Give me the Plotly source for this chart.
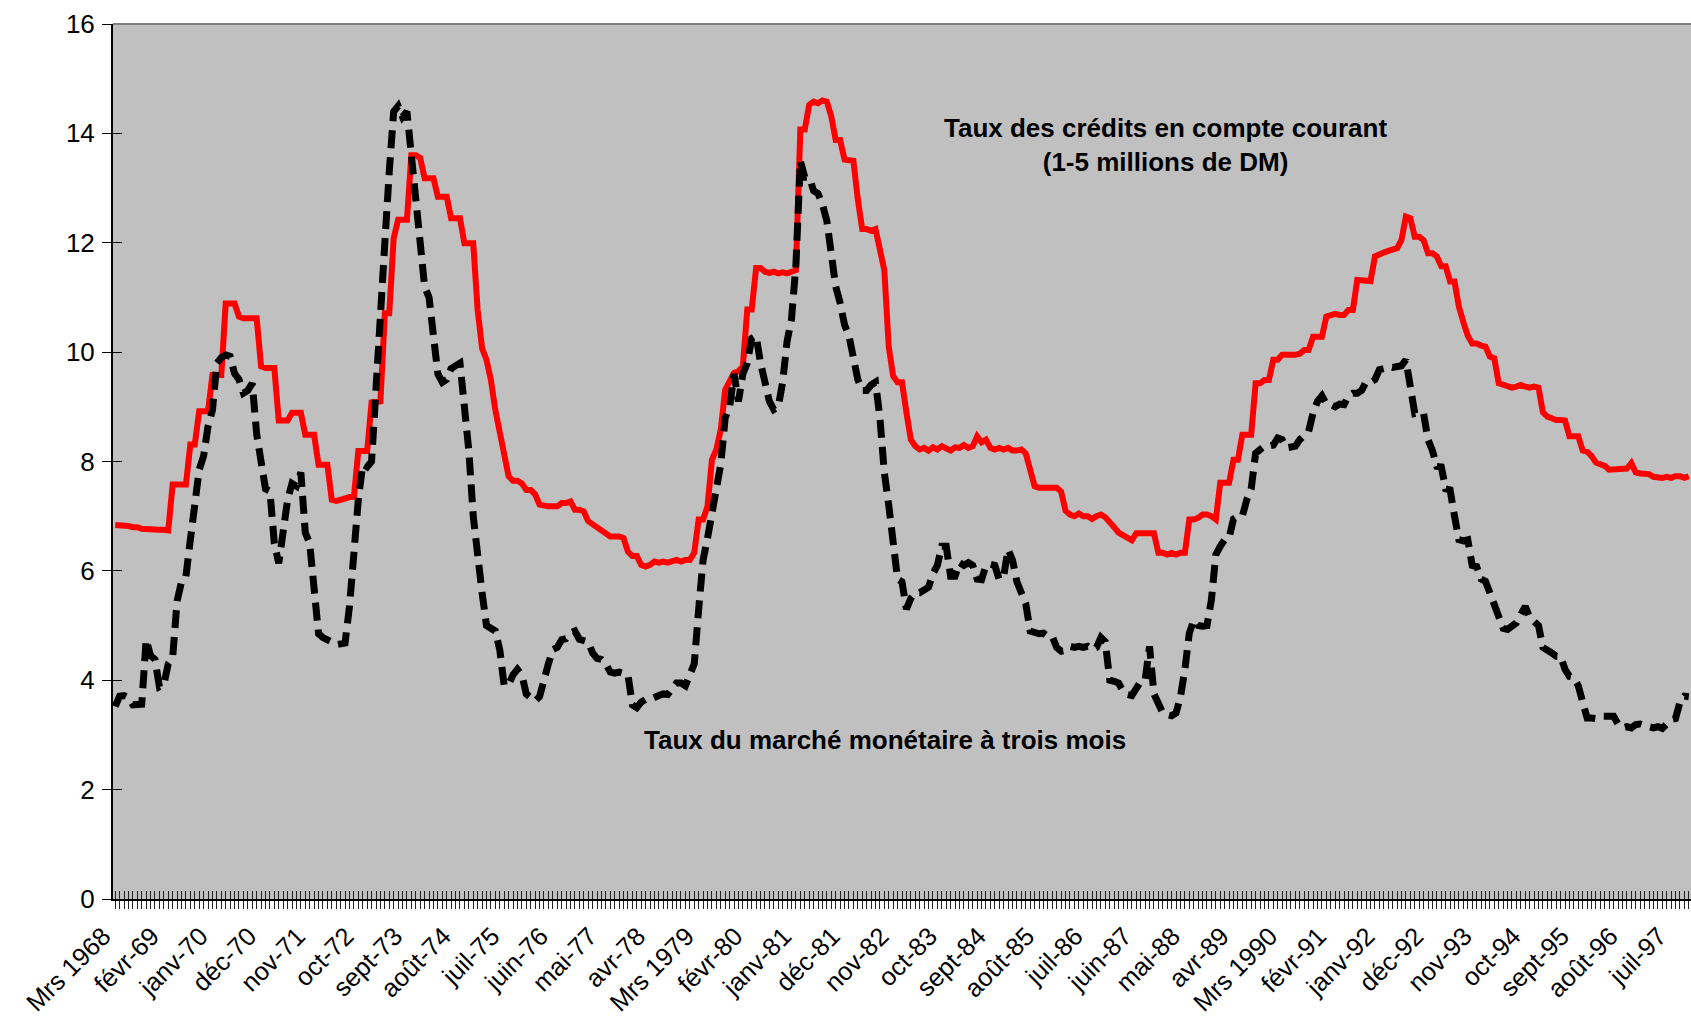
import plotly.graph_objects as go

# category labels shown every 11 months, first month = March 1968
tick_labels = ["Mrs 1968", "févr-69", "janv-70", "déc-70", "nov-71", "oct-72", "sept-73",
               "août-74", "juil-75", "juin-76", "mai-77", "avr-78", "Mrs 1979", "févr-80",
               "janv-81", "déc-81", "nov-82", "oct-83", "sept-84", "août-85", "juil-86",
               "juin-87", "mai-88", "avr-89", "Mrs 1990", "févr-91", "janv-92", "déc-92",
               "nov-93", "oct-94", "sept-95", "août-96", "juil-97"]
label_step = 11

# Taux des crédits en compte courant (1-5 millions de DM), monthly, Mar 1968 - Nov 1997
credit_rate = [
    6.84, 6.84, 6.84, 6.82, 6.80, 6.80, 6.77, 6.76, 6.75, 6.76,                          # 1968
    6.75, 6.75, 6.74, 7.58, 7.58, 7.58, 7.58, 8.31, 8.31, 8.92, 8.92, 8.92,              # 1969
    9.58, 9.58, 9.58, 10.89, 10.89, 10.89, 10.65, 10.62, 10.62, 10.62, 10.62, 9.74,      # 1970
    9.71, 9.71, 9.71, 8.75, 8.75, 8.75, 8.89, 8.89, 8.89, 8.49, 8.49, 8.49,              # 1971
    7.94, 7.94, 7.94, 7.30, 7.28, 7.30, 7.33, 7.35, 7.35, 8.19, 8.19, 8.19,              # 1972
    9.08, 9.08, 9.10, 10.71, 10.71, 12.08, 12.42, 12.42, 12.42, 13.60, 13.60, 13.55,     # 1973
    13.18, 13.18, 13.18, 12.84, 12.84, 12.84, 12.45, 12.45, 12.45, 11.99, 11.99, 11.99,  # 1974
    10.77, 10.07, 9.86, 9.49, 8.94, 8.50, 8.05, 7.73, 7.65, 7.65, 7.60, 7.48,            # 1975
    7.48, 7.40, 7.21, 7.19, 7.18, 7.18, 7.18, 7.24, 7.24, 7.27, 7.12, 7.12,              # 1976
    7.09, 6.91, 6.85, 6.78, 6.72, 6.69, 6.63, 6.63, 6.63, 6.60, 6.35, 6.27,              # 1977
    6.27, 6.11, 6.08, 6.11, 6.17, 6.15, 6.17, 6.15, 6.17, 6.20, 6.17, 6.20,              # 1978
    6.20, 6.33, 6.94, 6.94, 7.18, 8.03, 8.22, 8.58, 9.31, 9.45, 9.62, 9.65,              # 1979
    9.74, 10.78, 10.78, 11.54, 11.54, 11.47, 11.45, 11.47, 11.44, 11.46, 11.44, 11.47,   # 1980
    11.50, 14.07, 14.07, 14.52, 14.58, 14.55, 14.60, 14.58, 14.31, 13.88, 13.88, 13.52,  # 1981
    13.52, 13.50, 12.80, 12.25, 12.25, 12.22, 12.25, 11.80, 11.50, 10.10, 9.56, 9.45,    # 1982
    9.45, 8.90, 8.40, 8.28, 8.22, 8.25, 8.20, 8.26, 8.22, 8.28, 8.24, 8.20,              # 1983
    8.26, 8.25, 8.30, 8.25, 8.28, 8.46, 8.35, 8.40, 8.25, 8.22, 8.25, 8.22,              # 1984
    8.25, 8.20, 8.20, 8.22, 8.15, 7.85, 7.55, 7.52, 7.52, 7.50, 7.50, 7.52,              # 1985
    7.45, 7.10, 7.03, 7.00, 7.05, 7.00, 7.00, 6.95, 7.00, 7.03, 6.98, 6.90,              # 1986
    6.80, 6.70, 6.65, 6.60, 6.56, 6.69, 6.69, 6.70, 6.69, 6.69, 6.33, 6.33,              # 1987
    6.30, 6.33, 6.30, 6.33, 6.33, 6.94, 6.94, 6.97, 7.03, 7.03, 7.00, 6.94,              # 1988
    7.61, 7.61, 7.61, 8.03, 8.03, 8.49, 8.49, 8.49, 9.43, 9.43, 9.49, 9.49,              # 1989
    9.86, 9.86, 9.95, 9.95, 9.93, 9.95, 9.97, 10.04, 10.04, 10.28, 10.28, 10.28,         # 1990
    10.65, 10.68, 10.70, 10.68, 10.68, 10.77, 10.77, 11.32, 11.32, 11.32, 11.30, 11.75,  # 1991
    11.80, 11.82, 11.85, 11.88, 11.90, 12.05, 12.48, 12.45, 12.11, 12.11, 12.05, 11.81,  # 1992
    11.81, 11.75, 11.57, 11.57, 11.29, 11.29, 10.83, 10.55, 10.30, 10.16, 10.16, 10.12,  # 1993
    10.10, 9.92, 9.89, 9.43, 9.40, 9.37, 9.35, 9.37, 9.40, 9.37, 9.35, 9.37,             # 1994
    9.35, 8.90, 8.82, 8.79, 8.76, 8.76, 8.75, 8.46, 8.46, 8.46, 8.20, 8.18,              # 1995
    8.10, 7.98, 7.95, 7.92, 7.85, 7.85, 7.85, 7.85, 7.87, 7.97, 7.80, 7.78,              # 1996
    7.78, 7.77, 7.72, 7.70, 7.70, 7.72, 7.70, 7.73, 7.73, 7.70, 7.73,                    # 1997
]

# Taux du marché monétaire à trois mois, same months
money_market_rate = [
    3.52, 3.71, 3.72, 3.68, 3.55, 3.55, 3.56, 4.74, 4.45, 4.38,                          # 1968
    3.88, 3.92, 4.30, 4.42, 5.45, 5.80, 5.90, 6.57, 7.24, 7.85, 8.10, 8.64,              # 1969
    8.94, 9.80, 9.90, 9.95, 9.92, 9.61, 9.50, 9.25, 9.30, 9.43, 8.50, 7.97,              # 1970
    7.50, 7.46, 6.50, 6.14, 6.81, 7.30, 7.60, 7.55, 7.80, 6.70, 6.50, 5.66,              # 1971
    4.85, 4.78, 4.75, 4.70, 4.65, 4.65, 4.68, 5.35, 6.39, 7.30, 7.95, 7.90,              # 1972
    8.00, 9.50, 10.80, 12.00, 13.30, 14.40, 14.50, 14.30, 14.40, 13.60, 13.10, 12.10,    # 1973
    11.20, 11.00, 10.20, 9.60, 9.45, 9.50, 9.70, 9.75, 9.80, 9.00, 8.20, 7.00,           # 1974
    6.20, 5.60, 5.00, 4.93, 4.90, 4.56, 3.90, 3.92, 4.10, 4.20, 4.10, 3.75,              # 1975
    3.68, 3.62, 3.70, 4.07, 4.30, 4.56, 4.60, 4.74, 4.76, 4.86, 4.90, 4.75,              # 1976
    4.72, 4.70, 4.50, 4.40, 4.38, 4.30, 4.15, 4.13, 4.15, 4.13, 4.10, 3.55,              # 1977
    3.50, 3.60, 3.65, 3.65, 3.70, 3.72, 3.75, 3.74, 3.85, 3.95, 3.95, 3.90,              # 1978
    4.10, 4.30, 5.30, 6.20, 6.60, 7.00, 7.40, 7.95, 8.80, 9.00, 9.60, 9.10,              # 1979
    9.60, 9.80, 10.25, 10.30, 9.80, 9.50, 9.10, 8.95, 9.00, 9.45, 10.20, 10.60,          # 1980
    11.60, 13.50, 13.20, 13.20, 12.95, 12.90, 12.70, 12.40, 11.70, 11.20, 10.90, 10.50,  # 1981
    10.30, 9.80, 9.50, 9.30, 9.30, 9.40, 9.45, 8.80, 7.80, 7.20, 6.60, 5.85,             # 1982
    5.80, 5.30, 5.50, 5.60, 5.60, 5.65, 5.70, 5.95, 6.10, 6.45, 6.45, 5.90,              # 1983
    5.90, 6.15, 6.10, 6.15, 6.10, 5.85, 5.84, 6.10, 6.12, 6.10, 5.84, 5.90,              # 1984
    6.39, 6.20, 5.80, 5.60, 5.40, 4.90, 4.86, 4.85, 4.86, 4.80, 4.80, 4.60,              # 1985
    4.53, 4.55, 4.62, 4.60, 4.62, 4.60, 4.62, 4.56, 4.60, 4.78, 4.70, 4.00,              # 1986
    3.98, 3.95, 3.80, 3.74, 3.72, 3.85, 3.98, 4.00, 4.62, 3.75, 3.60, 3.40,              # 1987
    3.37, 3.35, 3.40, 3.70, 4.20, 4.86, 5.10, 5.00, 4.99, 5.00, 5.47, 6.30,              # 1988
    6.45, 6.57, 6.60, 6.95, 7.00, 7.00, 7.30, 7.50, 8.15, 8.20, 8.28, 8.28,              # 1989
    8.30, 8.43, 8.40, 8.25, 8.25, 8.28, 8.40, 8.50, 8.55, 8.89, 9.10, 9.20,              # 1990
    9.05, 9.04, 9.00, 9.05, 9.04, 9.20, 9.25, 9.25, 9.30, 9.46, 9.45, 9.50,              # 1991
    9.68, 9.70, 9.74, 9.72, 9.74, 9.75, 9.86, 9.37, 8.88, 8.90, 8.88, 8.40,              # 1992
    8.20, 7.91, 7.90, 7.50, 7.48, 7.00, 6.57, 6.55, 6.57, 6.10, 6.08, 5.85,              # 1993
    5.81, 5.60, 5.35, 5.10, 4.95, 4.93, 5.00, 5.05, 5.20, 5.35, 5.15, 5.05,              # 1994
    5.00, 4.60, 4.56, 4.50, 4.44, 4.44, 4.20, 4.07, 4.05, 3.90, 3.60, 3.31,              # 1995
    3.31, 3.30, 3.34, 3.34, 3.33, 3.34, 3.20, 3.13, 3.15, 3.13, 3.19, 3.20,              # 1996
    3.17, 3.15, 3.13, 3.15, 3.12, 3.20, 3.28, 3.30, 3.60, 3.71, 3.70,                    # 1997
]

months = list(range(len(credit_rate)))
ticktext = [tick_labels[i // label_step] if i % label_step == 0 else "" for i in months]
x_range = [-0.5, len(months) - 0.5]

font = "Arial, Liberation Sans, sans-serif"

fig = go.Figure()
fig.add_trace(go.Scatter(x=months, y=credit_rate, mode="lines",
                         line=dict(color="#ff0000", width=6), xaxis="x", yaxis="y"))
# black series sits on overlay axes, which also carry the inside half of the crossing ticks
fig.add_trace(go.Scatter(x=months, y=money_market_rate, mode="lines",
                         line=dict(color="#000000", width=7, dash="18px,9px"), xaxis="x2", yaxis="y2"))

fig.update_layout(
    width=1691, height=1021,
    margin=dict(l=113, r=0, t=24, b=122),
    paper_bgcolor="white", plot_bgcolor="#c0c0c0",
    showlegend=False,
    font=dict(family=font, color="black"),
    xaxis=dict(range=x_range, tickmode="array", tickvals=months, ticktext=ticktext,
               ticks="outside", ticklen=8, tickwidth=1, tickcolor="#222222",
               tickangle=-45, tickfont=dict(size=25.5), ticklabelstandoff=2, ticklabelshift=-12,
               showline=True, linecolor="black", linewidth=2,
               showgrid=False, zeroline=False, automargin=False),
    xaxis2=dict(range=x_range, overlaying="x", tickmode="array", tickvals=months,
                ticks="inside", ticklen=8, tickwidth=1, tickcolor="#222222",
                showticklabels=False, showline=False, showgrid=False, zeroline=False),
    yaxis=dict(range=[0, 16], dtick=2, ticks="outside", ticklen=9, tickwidth=1,
               tickcolor="black", tickfont=dict(size=26), ticklabelstandoff=2,
               showline=True, linecolor="black", linewidth=2,
               showgrid=False, zeroline=False, automargin=False),
    yaxis2=dict(range=[0, 16], dtick=2, overlaying="y", ticks="inside", ticklen=9,
                tickwidth=1, tickcolor="black", showticklabels=False,
                showline=False, showgrid=False, zeroline=False),
    shapes=[dict(type="line", xref="paper", yref="paper", x0=0, x1=1, y0=1, y1=1,
                 line=dict(color="#808080", width=2))],
    annotations=[
        dict(text="<b>Taux des crédits en compte courant<br>(1-5 millions de DM)</b>",
             xref="paper", yref="paper", x=0.667, y=0.862, xanchor="center", yanchor="middle",
             showarrow=False, font=dict(size=26), align="center"),
        dict(text="<b>Taux du marché monétaire à trois mois</b>",
             xref="paper", yref="paper", x=0.489, y=0.182, xanchor="center", yanchor="middle",
             showarrow=False, font=dict(size=26), align="center"),
    ],
)

fig.write_html("out.html", config={"displayModeBar": False},
               post_script="document.body.style.margin = '0';")
